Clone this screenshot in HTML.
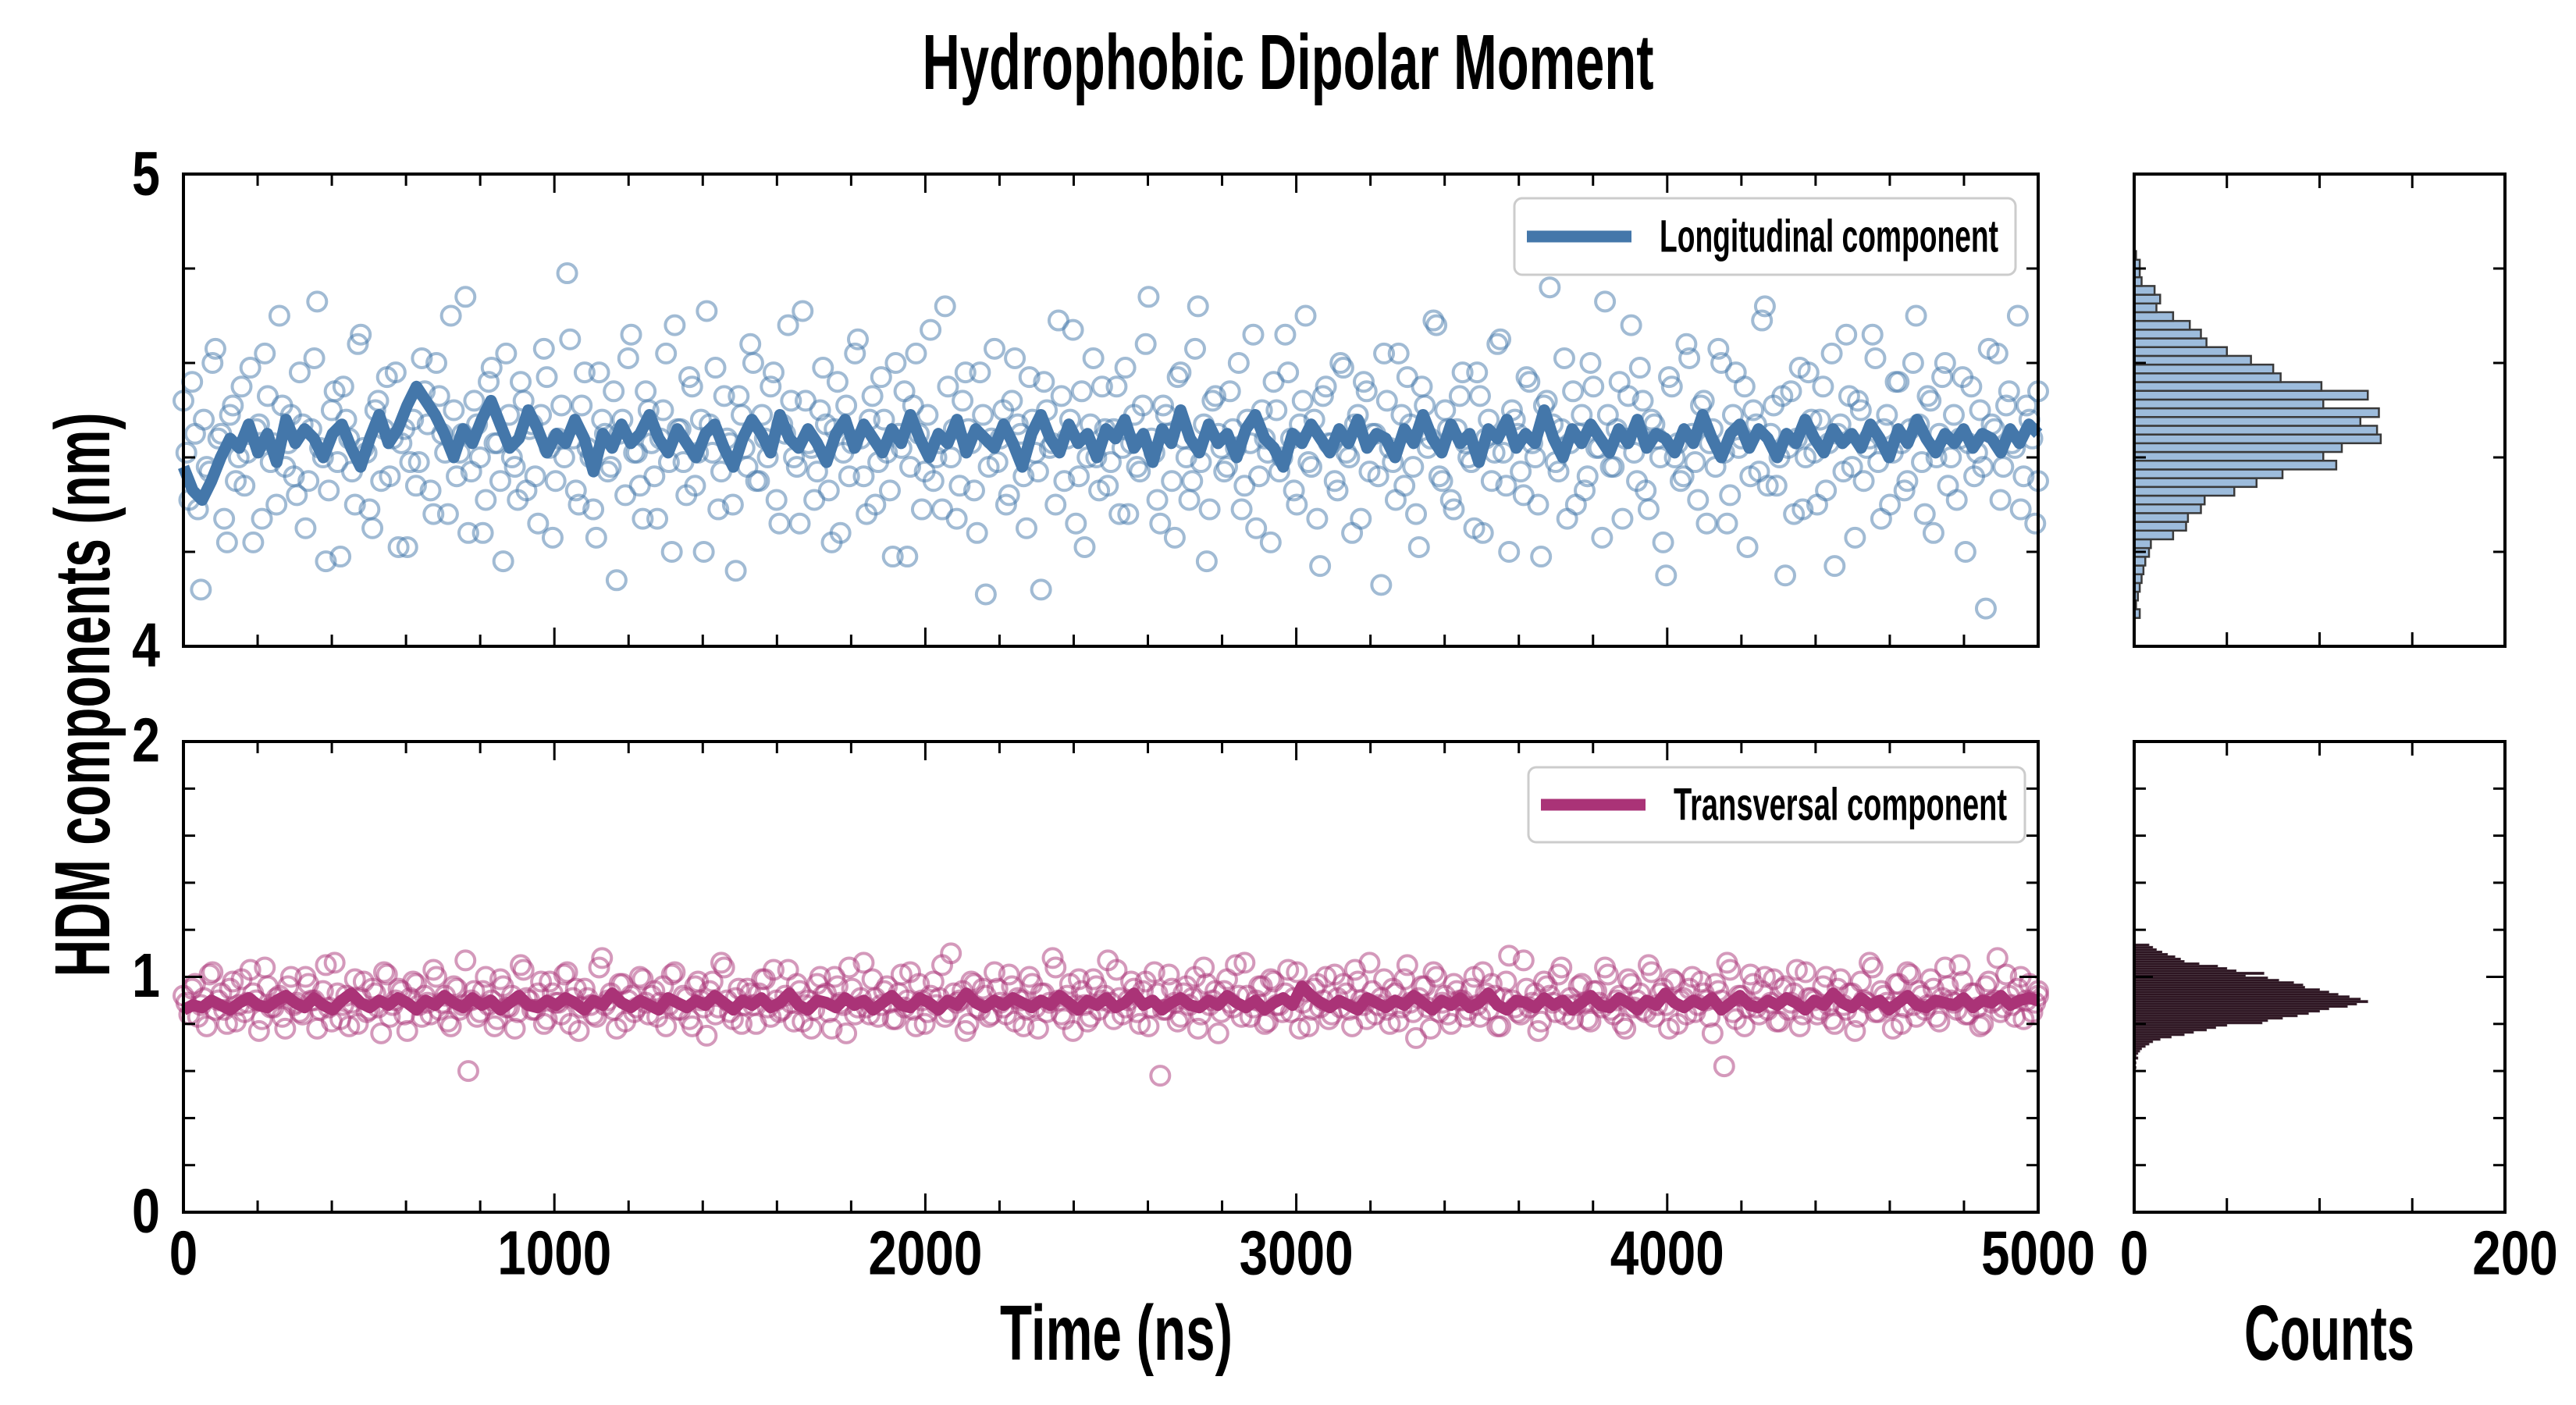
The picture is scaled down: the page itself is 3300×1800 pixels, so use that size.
<!DOCTYPE html>
<html><head><meta charset="utf-8"><title>Hydrophobic Dipolar Moment</title>
<style>html,body{margin:0;padding:0;background:#fff;}svg{display:block;}text{font-family:"Liberation Sans",sans-serif;font-weight:bold;fill:#000;}</style>
</head><body>
<svg id="chart" xmlns="http://www.w3.org/2000/svg" width="3300" height="1800" viewBox="0 0 3300 1800"></svg>
<script>
const topScatter=[4.52,4.31,4.45,4.12,4.38,4.60,4.44,4.27,4.49,4.35,4.55,4.41,4.22,4.47,4.62,4.39,4.30,4.51,4.43,4.36,
4.58,4.25,4.46,4.73,4.40,4.33,4.54,4.19,4.48,4.37,4.64,4.42,4.29,4.50,4.35,4.57,4.44,4.21,4.46,4.39,
4.34,4.61,4.47,4.28,4.53,4.41,4.70,4.36,4.45,4.24,4.52,4.40,4.31,4.59,4.43,4.18,4.49,4.38,4.56,4.33,
4.47,4.26,4.63,4.42,4.35,4.51,4.79,4.44,4.30,4.58,4.40,4.23,4.48,4.37,4.54,4.45,4.32,4.66,4.41,4.27,
4.50,4.36,4.44,4.62,4.20,4.46,4.39,4.57,4.34,4.48,4.71,4.41,4.29,4.53,4.43,4.16,4.49,4.38,4.60,4.35,
4.44,4.55,4.31,4.47,4.68,4.40,4.26,4.52,4.42,4.37,4.59,4.33,4.46,4.24,4.51,4.43,4.65,4.36,4.48,4.30,
4.57,4.41,4.19,4.45,4.54,4.38,4.62,4.29,4.49,4.35,4.43,4.72,4.40,4.27,4.52,4.46,4.33,4.58,4.11,4.44,
4.39,4.50,4.32,4.61,4.45,4.25,4.48,4.37,4.56,4.42,4.30,4.53,4.44,4.67,4.36,4.21,4.47,4.40,4.55,4.34,
4.46,4.28,4.59,4.43,4.38,4.51,4.74,4.41,4.26,4.49,4.35,4.57,4.44,4.31,4.63,4.39,4.18,4.52,4.45,4.37,
4.54,4.42,4.29,4.48,4.66,4.36,4.44,4.22,4.50,4.40,4.58,4.33,4.47,4.70,4.38,4.27,4.53,4.43,4.35,4.60,
4.41,4.24,4.49,4.56,4.37,4.45,4.13,4.52,4.39,4.62,4.34,4.47,4.28,4.55,4.42,4.69,4.36,4.50,4.31,4.46,
4.58,4.40,4.25,4.53,4.44,4.35,4.64,4.41,4.20,4.48,4.37,4.57,4.43,4.30,4.51,4.76,4.39,4.46,4.27,4.54,
4.45,4.33,4.60,4.42,4.23,4.49,4.38,4.56,4.44,4.68,4.35,4.52,4.29,4.47,4.40,4.15,4.55,4.43,4.36,4.61,
4.39,4.51,4.26,4.46,4.63,4.41,4.32,4.58,4.44,4.21,4.50,4.37,4.72,4.45,4.34,4.53,4.42,4.28,4.59,4.40,
4.48,4.30,4.55,4.43,4.17,4.47,4.66,4.38,4.52,4.35,4.44,4.61,4.27,4.49,4.41,4.56,4.33,4.46,4.70,4.39,
4.53,4.24,4.45,4.60,4.40,4.31,4.57,4.43,4.36,4.50,4.08,4.47,4.62,4.38,4.54,4.42,4.29,4.51,4.44,4.35];
const topScatter2=[4.41,4.56,4.29,4.48,4.37,4.63,4.45,4.22,4.51,4.40,4.34,4.59,4.46,4.27,4.53,4.43,4.70,4.38,4.49,4.32,
4.47,4.35,4.61,4.42,4.18,4.50,4.39,4.55,4.44,4.30,4.66,4.41,4.25,4.52,4.46,4.36,4.58,4.43,4.21,4.48,
4.39,4.54,4.33,4.60,4.45,4.28,4.50,4.41,4.74,4.37,4.47,4.24,4.56,4.43,4.35,4.62,4.40,4.31,4.52,4.46,
4.36,4.49,4.57,4.23,4.44,4.40,4.65,4.33,4.51,4.42,4.29,4.58,4.45,4.38,4.14,4.48,4.61,4.41,4.34,4.54,
4.43,4.27,4.50,4.39,4.68,4.46,4.32,4.55,4.41,4.20,4.47,4.59,4.37,4.44,4.30,4.53,4.42,4.64,4.35,4.49,
4.40,4.58,4.26,4.45,4.52,4.38,4.71,4.43,4.31,4.50,4.47,4.22,4.56,4.41,4.36,4.62,4.44,4.28,4.53,4.39,
4.48,4.33,4.60,4.42,4.19,4.51,4.45,4.37,4.67,4.40,4.29,4.55,4.46,4.34,4.58,4.43,4.24,4.49,4.38,4.63,
4.44,4.30,4.52,4.47,4.36,4.57,4.41,4.12,4.50,4.43,4.69,4.35,4.48,4.26,4.54,4.40,4.61,4.33,4.46,4.39,
4.55,4.42,4.28,4.49,4.37,4.64,4.44,4.31,4.51,4.45,4.23,4.58,4.40,4.35,4.72,4.47,4.29,4.53,4.42,4.38,
4.46,4.60,4.34,4.43,4.25,4.50,4.41,4.56,4.37,4.66,4.44,4.30,4.52,4.39,4.48,4.17,4.55,4.43,4.33,4.59,
4.40,4.47,4.27,4.54,4.45,4.36,4.62,4.42,4.31,4.49,4.57,4.38,4.21,4.51,4.44,4.68,4.35,4.46,4.29,4.53,
4.43,4.39,4.58,4.24,4.48,4.41,4.65,4.34,4.50,4.45,4.32,4.56,4.40,4.19,4.52,4.47,4.37,4.61,4.43,4.30,
4.49,4.36,4.55,4.42,4.73,4.38,4.46,4.27,4.53,4.41,4.59,4.33,4.48,4.44,4.22,4.57,4.40,4.35,4.64,4.45,
4.31,4.52,4.43,4.38,4.60,4.26,4.49,4.42,4.55,4.36,4.47,4.69,4.34,4.51,4.40,4.15,4.54,4.44,4.29,4.58,
4.41,4.48,4.33,4.62,4.45,4.37,4.53,4.23,4.50,4.42,4.66,4.39,4.46,4.30,4.56,4.43,4.35,4.60,4.47,4.28,
4.52,4.40,4.57,4.34,4.49,4.44,4.20,4.55,4.41,4.38,4.63,4.46,4.31,4.51,4.43,4.70,4.36,4.48,4.26,4.54];
const topLine=[4.38,4.33,4.31,4.35,4.40,4.44,4.42,4.47,4.41,4.45,4.39,4.48,4.43,4.46,4.44,4.40,4.45,4.47,4.42,4.38,
4.44,4.49,4.43,4.46,4.51,4.55,4.52,4.49,4.45,4.40,4.46,4.43,4.48,4.52,4.47,4.42,4.44,4.50,4.46,4.41,
4.45,4.43,4.48,4.44,4.37,4.45,4.42,4.47,4.43,4.45,4.49,4.44,4.41,4.46,4.43,4.40,4.45,4.47,4.42,4.38,
4.44,4.48,4.45,4.41,4.49,4.44,4.42,4.46,4.43,4.39,4.45,4.48,4.42,4.47,4.44,4.41,4.46,4.43,4.49,4.44,
4.40,4.45,4.43,4.48,4.41,4.46,4.44,4.42,4.47,4.43,4.38,4.45,4.49,4.44,4.41,4.47,4.43,4.45,4.40,4.46,
4.44,4.48,4.42,4.45,4.39,4.46,4.43,4.50,4.44,4.41,4.47,4.43,4.45,4.40,4.46,4.49,4.44,4.42,4.38,4.45,
4.43,4.47,4.44,4.41,4.46,4.43,4.48,4.42,4.45,4.44,4.40,4.46,4.43,4.49,4.44,4.41,4.47,4.43,4.45,4.39,
4.46,4.44,4.48,4.42,4.45,4.43,4.50,4.44,4.40,4.46,4.43,4.47,4.44,4.41,4.46,4.43,4.48,4.42,4.45,4.44,
4.41,4.46,4.43,4.49,4.44,4.40,4.45,4.47,4.42,4.46,4.44,4.40,4.45,4.43,4.48,4.44,4.41,4.46,4.43,4.45,
4.42,4.47,4.44,4.40,4.46,4.43,4.48,4.44,4.41,4.45,4.43,4.46,4.42,4.45,4.44,4.41,4.46,4.43,4.47,4.45];
const botScatter=[0.92,0.84,0.97,0.88,0.79,1.02,0.90,0.86,0.95,0.81,0.99,0.89,0.93,0.77,1.04,0.87,0.91,0.83,0.96,0.88,
0.85,1.00,0.90,0.78,0.94,0.87,1.06,0.82,0.92,0.89,0.80,0.98,0.86,0.93,0.76,1.01,0.88,0.95,0.84,0.91,
0.97,0.83,0.89,1.03,0.86,0.92,0.79,0.95,0.88,0.60,0.94,0.85,1.00,0.90,0.82,0.96,0.87,0.78,1.05,0.91,
0.86,0.93,0.80,0.98,0.89,0.84,1.02,0.91,0.77,0.95,0.88,0.83,1.08,0.90,0.86,0.97,0.81,0.92,0.87,0.99,
0.84,0.94,0.89,0.79,1.01,0.86,0.92,0.82,0.96,0.90,0.75,0.98,0.87,1.04,0.85,0.91,0.80,0.95,0.88,0.93,
0.99,0.83,0.90,0.86,1.03,0.81,0.94,0.88,0.78,0.97,0.92,0.85,1.00,0.89,0.76,0.95,0.87,1.06,0.84,0.91,
0.88,0.96,0.82,0.93,0.87,1.02,0.79,0.90,0.85,0.98,0.91,0.83,1.10,0.89,0.94,0.80,0.97,0.86,0.92,0.84,
0.95,0.87,1.01,0.81,0.90,0.86,0.97,0.78,0.93,0.89,1.04,0.84,0.92,0.77,0.99,0.88,0.83,0.96,0.90,1.07,
0.82,0.91,0.87,0.98,0.85,0.94,0.79,1.02,0.58,0.86,0.95,0.81,0.93,0.88,1.00,0.84,0.97,0.90,0.76,0.94,
0.89,1.05,0.83,0.92,0.87,0.96,0.80,0.99,0.88,0.85,1.03,0.91,0.78,0.94,0.86,0.97,0.90,0.82,1.01,0.87,
0.93,0.79,0.98,0.88,1.06,0.84,0.91,0.86,0.95,0.81,0.99,0.89,0.74,0.96,0.87,1.02,0.85,0.92,0.80,0.94,
0.90,0.86,1.00,0.83,0.93,0.97,0.79,0.91,1.09,0.87,0.84,0.95,0.89,0.77,0.98,0.92,0.85,1.04,0.88,0.82,
0.96,0.89,0.81,0.94,0.87,1.01,0.84,0.92,0.78,0.97,0.90,0.86,1.05,0.83,0.93,0.88,0.99,0.80,0.91,0.95,
0.85,0.98,0.90,0.76,0.94,0.62,1.03,0.82,0.92,0.87,0.97,0.84,1.00,0.89,0.81,0.95,0.86,0.93,0.79,1.02,
0.91,0.84,0.96,0.88,0.80,0.99,0.86,0.93,0.83,0.90,1.06,0.85,0.94,0.89,0.78,0.97,0.87,1.01,0.83,0.92,
0.88,0.95,0.81,1.04,0.90,0.86,0.98,0.84,0.93,0.79,0.96,0.89,1.08,0.87,0.92,0.83,1.00,0.90,0.85,0.94];
const botScatter2=[0.89,0.95,0.83,0.91,1.01,0.86,0.93,0.80,0.98,0.88,0.85,1.03,0.90,0.82,0.96,0.87,0.92,0.78,1.00,0.89,
0.84,0.97,0.90,0.86,1.05,0.81,0.93,0.88,0.79,0.99,0.91,0.85,0.95,0.87,1.02,0.83,0.90,0.94,0.77,0.98,
0.88,0.92,0.84,1.00,0.89,0.81,0.96,0.86,1.07,0.90,0.83,0.94,0.88,0.79,0.99,0.87,0.92,0.85,1.03,0.90,
0.86,0.98,0.82,0.93,0.89,1.01,0.80,0.95,0.87,0.91,0.84,1.04,0.88,0.93,0.78,0.97,0.90,0.85,1.00,0.89,
0.92,0.83,0.96,0.88,1.02,0.86,0.91,0.79,0.98,0.87,0.94,0.84,1.06,0.90,0.82,0.95,0.88,0.93,0.80,0.99,
0.87,1.03,0.85,0.92,0.89,0.97,0.81,0.90,0.86,1.00,0.93,0.78,0.96,0.88,1.04,0.84,0.91,0.87,0.99,0.83,
0.94,0.89,0.82,1.01,0.90,0.86,0.97,0.80,0.92,0.88,1.05,0.85,0.93,0.90,0.77,0.98,0.87,0.95,0.83,1.02,
0.89,0.84,0.96,0.91,0.79,1.00,0.87,0.93,0.85,1.08,0.90,0.82,0.97,0.88,0.94,0.81,0.99,0.86,0.92,0.89,
1.03,0.84,0.90,0.95,0.80,0.98,0.87,0.93,0.86,1.01,0.89,0.83,0.96,0.91,0.78,1.04,0.88,0.94,0.85,0.99,
0.87,0.92,1.06,0.83,0.90,0.96,0.81,0.98,0.88,0.93,0.85,1.02,0.89,0.79,0.95,0.87,1.00,0.84,0.91,0.97,
0.86,1.03,0.90,0.82,0.94,0.88,0.99,0.80,0.93,0.87,1.05,0.85,0.91,0.96,0.78,1.00,0.89,0.84,0.97,0.90,
0.83,0.95,0.88,1.02,0.86,0.92,0.79,0.98,0.90,0.85,1.07,0.87,0.93,0.81,0.96,0.89,1.01,0.84,0.91,0.88,
0.97,0.82,0.94,0.89,1.04,0.86,0.90,0.80,0.99,0.87,0.93,0.85,1.02,0.88,0.95,0.78,0.98,0.90,0.84,1.00,
0.88,0.93,0.83,0.97,0.90,1.06,0.85,0.92,0.79,1.01,0.87,0.94,0.86,0.99,0.81,0.96,0.89,1.03,0.84,0.91,
0.90,0.86,1.00,0.82,0.95,0.88,0.93,0.77,0.98,0.89,1.04,0.85,0.92,0.87,0.97,0.80,1.02,0.88,0.94,0.86,
0.99,0.83,0.91,0.96,0.89,1.05,0.84,0.93,0.87,0.80,0.98,0.90,0.85,1.01,0.88,0.95,0.82,0.97,0.89,0.92];
const botLine=[0.86,0.88,0.87,0.90,0.88,0.86,0.89,0.91,0.88,0.87,0.90,0.92,0.89,0.87,0.91,0.88,0.86,0.90,0.93,0.89,
0.87,0.90,0.88,0.91,0.89,0.86,0.90,0.88,0.92,0.89,0.87,0.91,0.88,0.90,0.86,0.89,0.92,0.88,0.87,0.90,
0.88,0.91,0.89,0.86,0.90,0.88,0.93,0.89,0.87,0.90,0.88,0.86,0.91,0.89,0.87,0.90,0.88,0.92,0.89,0.86,
0.90,0.88,0.91,0.87,0.89,0.93,0.88,0.86,0.90,0.89,0.87,0.91,0.88,0.90,0.86,0.89,0.92,0.88,0.87,0.91,
0.89,0.86,0.90,0.88,0.93,0.89,0.87,0.90,0.88,0.91,0.89,0.87,0.90,0.88,0.92,0.89,0.86,0.90,0.88,0.91,
0.87,0.89,0.93,0.88,0.90,0.86,0.89,0.91,0.88,0.87,0.90,0.88,0.92,0.89,0.87,0.90,0.86,0.89,0.91,0.88,
0.96,0.92,0.89,0.87,0.90,0.88,0.86,0.91,0.89,0.87,0.90,0.88,0.92,0.89,0.86,0.90,0.88,0.91,0.87,0.89,
0.93,0.88,0.86,0.90,0.89,0.87,0.91,0.88,0.90,0.86,0.89,0.92,0.88,0.87,0.91,0.89,0.86,0.90,0.88,0.93,
0.89,0.87,0.90,0.88,0.91,0.86,0.89,0.92,0.88,0.87,0.90,0.88,0.91,0.89,0.86,0.90,0.88,0.93,0.89,0.87,
0.91,0.88,0.90,0.86,0.89,0.92,0.88,0.87,0.90,0.89,0.88,0.91,0.87,0.90,0.89,0.92,0.88,0.90,0.91,0.90];
const topHistStart=4.06, topHistWidth=0.0185;
const topHistCounts=[3,1,2,3,4,5,6,8,9,21,28,29,36,38,54,66,80,109,102,112,133,131,122,132,102,126,101,79,75,63,50,39,36,30,21,12,14,11,4,3,3,1];
const botHistStart=0.61, botHistWidth=0.01;
const botHistCounts=[1,0,1,0,2,1,2,3,4,6,8,10,14,20,27,32,39,44,50,69,72,80,88,94,100,105,115,120,126,122,116,110,105,100,92,91,86,78,72,60,70,55,50,45,35,27,25,22,18,15,12,10,8];
const xTicks=[0,1000,2000,3000,4000,5000];
const histTicks=[0,200];

const svg=document.getElementById('chart');
const NS='http://www.w3.org/2000/svg';
function el(tag,attrs,parent){const e=document.createElementNS(NS,tag);for(const k in attrs)e.setAttribute(k,attrs[k]);(parent||svg).appendChild(e);return e;}
const MX0=235,MX1=2611,HX0=2734,HX1=3209;
const P1={y0:223,y1:828,lo:4,hi:5},P2={y0:950,y1:1553,lo:0,hi:2};
const xs=t=>MX0+(t/5000)*(MX1-MX0);
const hx=c=>HX0+(c/200)*(HX1-HX0);
const ys=(p,v)=>p.y1-(v-p.lo)/(p.hi-p.lo)*(p.y1-p.y0);
function label(x,y,str,size,anchor,len,rot){
  const t=el('text',{x:x,y:y,'font-size':size,'text-anchor':anchor,'dominant-baseline':'central',textLength:len,lengthAdjust:'spacingAndGlyphs'});
  if(rot)t.setAttribute('transform','rotate('+rot+' '+x+' '+y+')');
  t.textContent=str;return t;
}
function frame(x0,x1,p,name){
  const r=el('rect',{x:x0,y:p.y0,width:x1-x0,height:p.y1-p.y0,fill:'none',stroke:'#000','stroke-width':4});
  
  
}
function yTicks(x0,x1,p){
  const n=Math.round((p.hi-p.lo)/0.2);
  for(let i=1;i<n;i++){const v=p.lo+i*0.2;const y=ys(p,v);const L=(Math.abs(v-Math.round(v))<1e-6)?24:15;
    el('line',{x1:x0,y1:y,x2:x0+L,y2:y,stroke:'#000','stroke-width':3});
    el('line',{x1:x1,y1:y,x2:x1-L,y2:y,stroke:'#000','stroke-width':3});}
}
function xTickMarks(p){
  for(let t=200;t<5000;t+=200){const x=xs(t);const L=(t%1000===0)?24:15;
    el('line',{x1:x,y1:p.y0,x2:x,y2:p.y0+L,stroke:'#000','stroke-width':3});
    el('line',{x1:x,y1:p.y1,x2:x,y2:p.y1-L,stroke:'#000','stroke-width':3});}
}
function hTickMarks(p){
  for(let c=50;c<200;c+=50){const x=hx(c);
    el('line',{x1:x,y1:p.y0,x2:x,y2:p.y0+18,stroke:'#000','stroke-width':3});
    el('line',{x1:x,y1:p.y1,x2:x,y2:p.y1-18,stroke:'#000','stroke-width':3});}
}
function scatter(arr,p,color,name,offset){
  const g=el('g',{});
  
  
  const n=arr.length;const step=5000/(n-1);
  arr.forEach((v,i)=>{const t=Math.min(5000,i*step+offset*step);el('circle',{cx:xs(t),cy:ys(p,v),r:12,fill:'none',stroke:color,'stroke-opacity':0.5,'stroke-width':4},g);});
}
function line(arr,p,color,name){
  const n=arr.length;
  const d=arr.map((v,i)=>(i?'L':'M')+xs(i*5000/(n-1)).toFixed(1)+','+ys(p,v).toFixed(1)).join('');
  const l=el('path',{d:d,fill:'none',stroke:color,'stroke-width':15,'stroke-linejoin':'round'});
  
  
}
function hist(counts,start,w,p,fill,edge,sw,name){
  const g=el('g',{});
  
  
  counts.forEach((c,i)=>{const yTop=ys(p,start+(i+1)*w),yBot=ys(p,start+i*w);
    el('rect',{x:HX0,y:yTop,width:hx(c)-HX0,height:yBot-yTop,fill:fill,stroke:edge,'stroke-width':sw},g);});
}
function legend(x,y,w,h,color,str,tlen,name){
  const g=el('g',{});
  
  
  el('rect',{x:x,y:y,width:w,height:h,rx:10,fill:'#fff','fill-opacity':0.85,stroke:'#cccccc','stroke-width':3},g);
  el('line',{x1:x+16,y1:y+h/2,x2:x+150,y2:y+h/2,stroke:color,'stroke-width':15},g);
  const t=label(x+186,y+h/2,str,58,'start',tlen);g.appendChild(t);
}
const title=label(1650,80,'Hydrophobic Dipolar Moment',100,'middle',937);



scatter(topScatter,P1,'#4477aa','longitudinal-scatter',0);
scatter(topScatter2,P1,'#4477aa','longitudinal-scatter-b',0.5);
line(topLine,P1,'#4477aa','longitudinal-line');
frame(MX0,MX1,P1,'longitudinal-axes');
yTicks(MX0,MX1,P1);xTickMarks(P1);
legend(1940,254,642,98,'#4477aa','Longitudinal component',434,'longitudinal-legend');
const l5=label(205,222,'5',80,'end',36);
const l4=label(205,826,'4',80,'end',36);

scatter(botScatter,P2,'#aa3377','transversal-scatter',0);
scatter(botScatter2,P2,'#aa3377','transversal-scatter-b',0.5);
line(botLine,P2,'#aa3377','transversal-line');
frame(MX0,MX1,P2,'transversal-axes');
yTicks(MX0,MX1,P2);xTickMarks(P2);
legend(1958,983,636,96,'#aa3377','Transversal component',427,'transversal-legend');
[[2,'2'],[1,'1'],[0,'0']].forEach(([v,s])=>{const t=label(205,ys(P2,v)-2,s,80,'end',36);
  
  });

xTicks.forEach(t=>{const s=String(t);const lb=label(xs(t),1605,s,80,'middle',36.5*s.length);
  
  });

hist(topHistCounts,topHistStart,topHistWidth,P1,'#9dbcdc','#3a3a3a',2.5,'longitudinal-histogram');
frame(HX0,HX1,P1,'longitudinal-hist-axes');yTicks(HX0,HX1,P1);hTickMarks(P1);
hist(botHistCounts,botHistStart,botHistWidth,P2,'#2e1522','#4a3842',0.8,'transversal-histogram');
frame(HX0,HX1,P2,'transversal-hist-axes');yTicks(HX0,HX1,P2);hTickMarks(P2);
histTicks.forEach(c=>{const s=String(c);const lb=label(hx(c)+(c?13:0),1605,s,80,'middle',36.5*s.length);
  
  });

const xt=label(1430,1708,'Time (ns)',100,'middle',298);


const ct=label(2984,1708,'Counts',100,'middle',218);


const yt=label(106,890,'HDM components (nm)',100,'middle',723,-90);


</script>
</body></html>
